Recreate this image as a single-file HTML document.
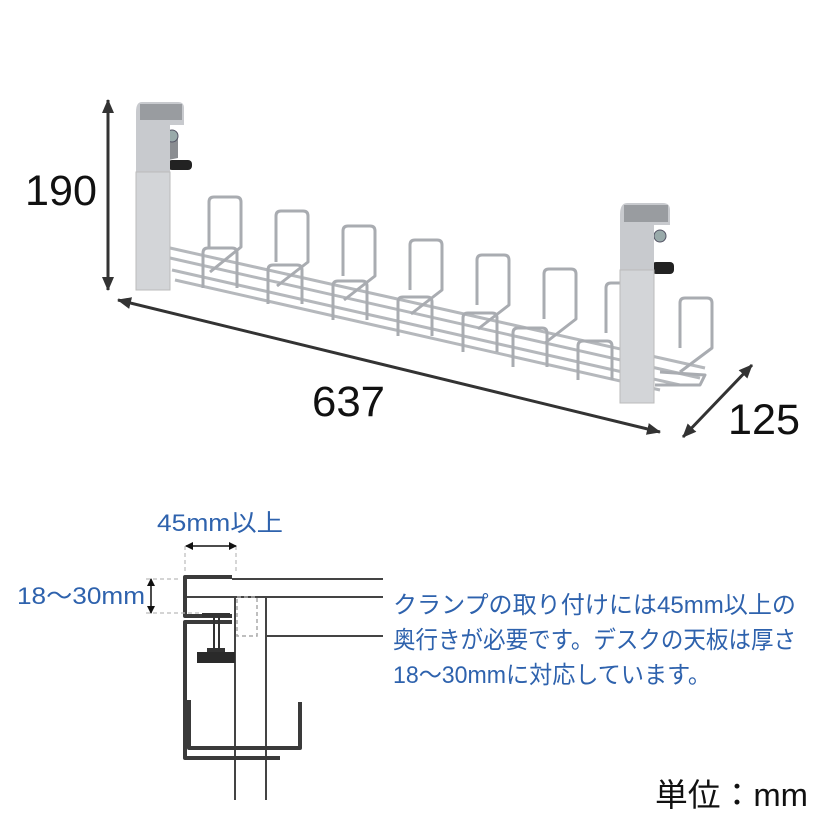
<!DOCTYPE html>
<html><head><meta charset="utf-8"><style>
html,body{margin:0;padding:0;background:#fff;}
svg{display:block;}
.j{font-family:"Liberation Sans","Noto Sans CJK JP",sans-serif;}
</style></head><body>
<svg width="830" height="830" viewBox="0 0 830 830" xmlns="http://www.w3.org/2000/svg">
<defs>
<marker id="ah2" markerWidth="14" markerHeight="14" refX="13" refY="7" orient="auto-start-reverse" markerUnits="userSpaceOnUse"><path d="M0,1 L14,7 L0,13 z" fill="#333"/></marker>
<marker id="sa" markerWidth="8" markerHeight="8" refX="7" refY="4" orient="auto-start-reverse" markerUnits="userSpaceOnUse"><path d="M0,0 L8,4 L0,8 z" fill="#111"/></marker>
</defs>
<line x1="108" y1="100" x2="108" y2="290" stroke="#333" stroke-width="3" marker-start="url(#ah2)" marker-end="url(#ah2)"/>
<line x1="118" y1="300" x2="660" y2="432" stroke="#333" stroke-width="3" marker-start="url(#ah2)" marker-end="url(#ah2)"/>
<line x1="683" y1="437" x2="752" y2="365" stroke="#333" stroke-width="3" marker-start="url(#ah2)" marker-end="url(#ah2)"/>
<text x="25" y="205" font-size="43" class="j" fill="#111" textLength="72" lengthAdjust="spacingAndGlyphs">190</text>
<text x="312" y="416" font-size="43" class="j" fill="#111" textLength="73" lengthAdjust="spacingAndGlyphs">637</text>
<text x="728" y="434" font-size="43" class="j" fill="#111" textLength="72" lengthAdjust="spacingAndGlyphs">125</text>

<g stroke="#b5b8bc" stroke-width="3" fill="none">
<line x1="170" y1="248" x2="705" y2="368"/>
<line x1="170" y1="258" x2="700" y2="378"/>
<line x1="172" y1="270" x2="680" y2="385"/>
<line x1="175" y1="280" x2="660" y2="390"/>
</g>
<g stroke="#a9acb1" stroke-width="3" fill="none" stroke-linejoin="round">
<path d="M209,247 L209,202 Q209,197 214,197 L236,197 Q241,197 241,202 L241,247 L210,272"/>
<path d="M276,262 L276,216 Q276,211 281,211 L303,211 Q308,211 308,216 L308,262 L277,286"/>
<path d="M343,276 L343,231 Q343,226 348,226 L370,226 Q375,226 375,231 L375,276 L344,300"/>
<path d="M410,290 L410,245 Q410,240 415,240 L437,240 Q442,240 442,245 L442,290 L411,314"/>
<path d="M477,305 L477,260 Q477,255 482,255 L504,255 Q509,255 509,260 L509,305 L478,329"/>
<path d="M544,319 L544,274 Q544,269 549,269 L571,269 Q576,269 576,274 L576,319 L545,343"/>
<path d="M606,333 L606,288 Q606,283 611,283 L625,283"/>
<path d="M680,348 L680,303 Q680,298 685,298 L707,298 Q712,298 712,303 L712,348 L680,372"/>
<path d="M203,288 L203,253 Q203,248 208,248 L232,248 Q237,248 237,253 L237,288"/>
<path d="M268,304 L268,270 Q268,265 273,265 L297,265 Q302,265 302,270 L302,304"/>
<path d="M333,320 L333,286 Q333,281 338,281 L362,281 Q367,281 367,286 L367,320"/>
<path d="M398,336 L398,302 Q398,297 403,297 L427,297 Q432,297 432,302 L432,336"/>
<path d="M463,352 L463,318 Q463,313 468,313 L492,313 Q497,313 497,318 L497,352"/>
<path d="M513,367 L513,333 Q513,328 518,328 L542,328 Q547,328 547,333 L547,367"/>
<path d="M578,380 L578,346 Q578,341 583,341 L607,341 Q612,341 612,346 L612,380"/>
<path d="M655,385 L700,385 L705,375 L660,372"/>
</g>
<path d="M168,140 L168,160 L178,158 L178,138 z" fill="#8a8d91"/>
<circle cx="172" cy="136" r="6" fill="#9aa" stroke="#556" stroke-width="1"/>
<rect x="168" y="160" width="24" height="10" rx="4" fill="#222"/>
<path d="M136,112 L136,172 L170,172 L170,125 L184,125 L184,108 Q184,102 178,102 L142,102 Q136,102 136,112 z" fill="#c8cace"/>
<path d="M140,104 L182,104 L182,120 L140,120 z" fill="#999ca0"/>
<path d="M136,172 L170,172 L170,290 L136,290 z" fill="#d3d5d8" stroke="#bbb" stroke-width="1"/>
<circle cx="660" cy="236" r="6" fill="#9aa" stroke="#556" stroke-width="1"/>
<rect x="652" y="262" width="22" height="12" rx="4" fill="#222"/>
<path d="M620,215 L620,270 L654,270 L654,225 L670,225 L670,210 Q670,203 663,203 L627,203 Q620,203 620,215 z" fill="#c8cace"/>
<path d="M624,205 L668,205 L668,222 L624,222 z" fill="#999ca0"/>
<path d="M620,270 L654,270 L654,403 L620,403 z" fill="#d3d5d8" stroke="#bbb" stroke-width="1"/>

<g stroke="#444" stroke-width="2" fill="none">
<line x1="232" y1="579" x2="383" y2="579"/>
<line x1="185" y1="597" x2="383" y2="597"/>
<line x1="267" y1="636" x2="383" y2="636"/>
<line x1="235" y1="597" x2="235" y2="800"/>
<line x1="266" y1="597" x2="266" y2="800"/>
</g>
<rect x="237" y="597" width="20" height="39" fill="none" stroke="#aaa" stroke-width="1.5" stroke-dasharray="4,3"/>
<g stroke="#3a3a3a" stroke-width="4" fill="none" stroke-linejoin="round">
<path d="M232,577 L185,577 L185,616 L232,616"/>
<path d="M232,622 L185,622 L185,758 L280,758"/>
<path d="M189,700 L189,748 L300,748 L300,702"/>
</g>
<rect x="202" y="613" width="28" height="4" fill="#333"/>
<line x1="214" y1="617" x2="214" y2="650" stroke="#333" stroke-width="2"/>
<line x1="219" y1="617" x2="219" y2="650" stroke="#333" stroke-width="2"/>
<rect x="207" y="648" width="18" height="5" fill="#333"/>
<rect x="197" y="652" width="38" height="11" fill="#2a2a2a"/>
<g stroke="#bbb" stroke-width="1.2" stroke-dasharray="4,3">
<line x1="185" y1="546" x2="185" y2="573"/>
<line x1="236" y1="546" x2="236" y2="573"/>
<line x1="146" y1="579" x2="178" y2="579"/>
<line x1="146" y1="613" x2="200" y2="613"/>
</g>
<line x1="186" y1="546" x2="236" y2="546" stroke="#111" stroke-width="1.5" marker-start="url(#sa)" marker-end="url(#sa)"/>
<line x1="151" y1="579" x2="151" y2="613" stroke="#111" stroke-width="1.5" marker-start="url(#sa)" marker-end="url(#sa)"/>
<text x="157" y="531" font-size="24" class="j" fill="#2e62ad" textLength="126" lengthAdjust="spacingAndGlyphs">45mm以上</text>
<text x="17" y="604" font-size="24" class="j" fill="#2e62ad" textLength="128" lengthAdjust="spacingAndGlyphs">18〜30mm</text>
<g font-size="24" class="j" fill="#2e62ad">
<text x="393" y="613" textLength="403" lengthAdjust="spacingAndGlyphs">クランプの取り付けには45mm以上の</text>
<text x="393" y="648" textLength="403" lengthAdjust="spacingAndGlyphs">奥行きが必要です。デスクの天板は厚さ</text>
<text x="393" y="683" textLength="318" lengthAdjust="spacingAndGlyphs">18〜30mmに対応しています。</text>
</g>
<text x="655" y="806" font-size="32" class="j" fill="#111" textLength="153" lengthAdjust="spacingAndGlyphs">単位：mm</text>
</svg>
</body></html>
